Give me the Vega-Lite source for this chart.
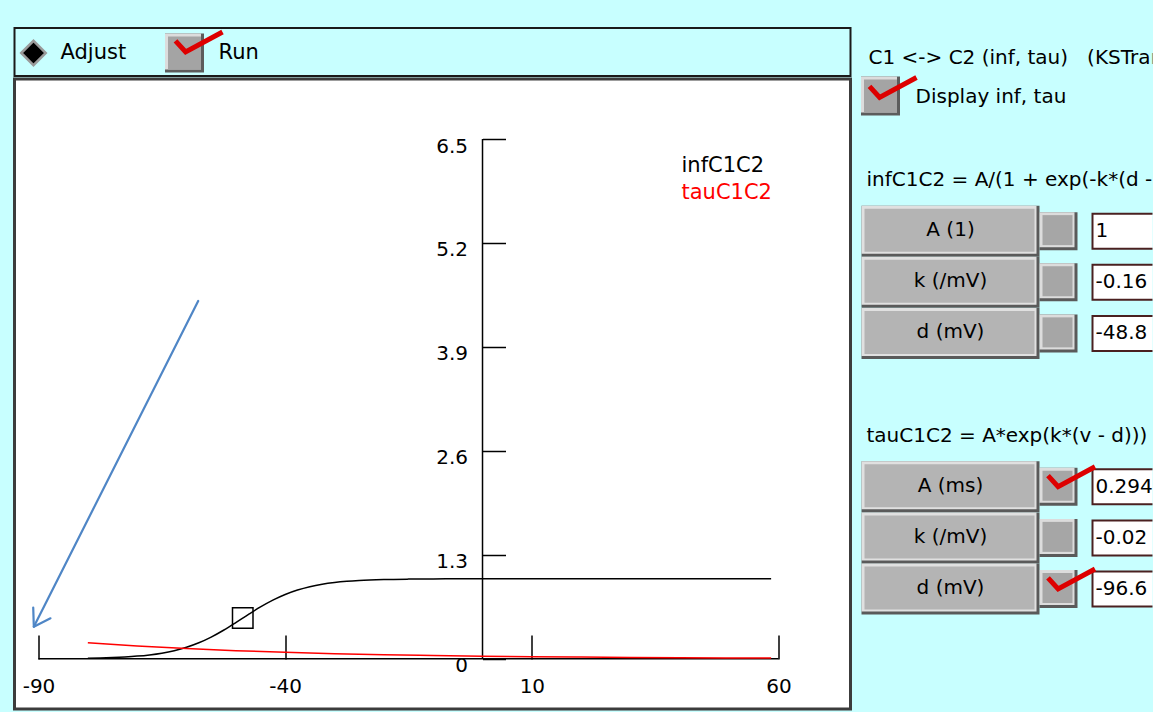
{
  "$schema": "https://vega.github.io/schema/vega-lite/v6.json",
  "background": "#c8ffff",
  "padding": {"left": 12.5, "top": 27, "right": 0, "bottom": 0},
  "spacing": 0,
  "config": {
    "font": "DejaVu Sans",
    "view": {"stroke": null},
    "concat": {"spacing": 0},
    "axis": {"grid": false}
  },
  "hconcat": [
    {
      "spacing": 0,
      "vconcat": [
        {
          "width": 836,
          "height": 48,
          "view": {"fill": "#c8ffff", "stroke": "#1a1a1a", "strokeWidth": 2},
          "data": {"values": [
            {"control": "Adjust", "type": "radio"},
            {"control": "Run", "type": "checkbox"}
          ]},
          "encoding": {
            "x": {"field": "control", "type": "nominal", "axis": null,
                  "scale": {"type": "point", "domain": ["Adjust", "Run"], "range": [19, 170], "padding": 0}}
          },
          "layer": [
            {"transform": [{"filter": "datum.type === 'radio'"}],
             "mark": {"type": "point", "shape": "diamond", "filled": true, "size": 600, "color": "#000000", "stroke": "#9a9a9a", "strokeWidth": 2.5, "opacity": 1, "yOffset": 1, "clip": true}},
            {"transform": [{"filter": "datum.type === 'checkbox'"}],
             "mark": {"type": "point", "shape": "square", "filled": true, "size": 1521, "color": "#5c5c5c", "opacity": 1, "yOffset": 1, "clip": true}},
            {"transform": [{"filter": "datum.type === 'checkbox'"}],
             "mark": {"type": "point", "shape": "square", "filled": true, "size": 1296, "color": "#dcdcdc", "opacity": 1, "xOffset": -1.5, "yOffset": -0.5, "clip": true}},
            {"transform": [{"filter": "datum.type === 'checkbox'"}],
             "mark": {"type": "point", "shape": "square", "filled": true, "size": 1089, "color": "#a4a4a4", "opacity": 1, "yOffset": 1, "clip": true}},
            {"transform": [{"filter": "datum.type === 'checkbox'"}],
             "mark": {"type": "point", "shape": "M-1,-0.09L-0.57,0.38L1,-0.47", "filled": false, "size": 2209, "stroke": "#dd0000", "strokeWidth": 5, "opacity": 1, "xOffset": 14.5, "yOffset": -9, "clip": true}},
            {"transform": [{"filter": "datum.type === 'radio'"}],
             "mark": {"type": "text", "align": "left", "dx": 27, "dy": 1, "fontSize": 21, "color": "#000000", "clip": true},
             "encoding": {"text": {"field": "control"}}},
            {"transform": [{"filter": "datum.type === 'checkbox'"}],
             "mark": {"type": "text", "align": "left", "dx": 34, "dy": 1, "fontSize": 21, "color": "#000000", "clip": true},
             "encoding": {"text": {"field": "control"}}}
          ]
        },
        {
          "width": 836,
          "height": 630,
          "view": {"fill": "#ffffff", "stroke": "#3c3c3c", "strokeWidth": 3},
          "encoding": {
            "x": {"field": "v", "type": "quantitative",
                  "scale": {"domain": [-94.865, 74.59], "nice": false, "zero": false},
                  "axis": {"orient": "bottom", "offset": -50, "values": [-90, -40, 10, 60],
                           "tickSize": -24, "tickWidth": 1.5, "tickColor": "#000000",
                           "domain": false, "grid": false, "title": null,
                           "labelFont": "DejaVu Sans", "labelFontSize": 20, "labelColor": "#000000",
                           "labelPadding": 41, "labelExpr": "'' + datum.value",
                           "labelFlush": false, "labelOverlap": false, "labelBound": false}},
            "y": {"field": "value", "type": "quantitative",
                  "scale": {"domain": [-0.629, 7.2508], "nice": false, "zero": false},
                  "axis": {"orient": "left", "offset": -468, "values": [0, 1.3, 2.6, 3.9, 5.2, 6.5],
                           "tickSize": -23, "tickWidth": 1.5, "tickColor": "#000000",
                           "domain": false, "grid": false, "title": null,
                           "labelFont": "DejaVu Sans", "labelFontSize": 20, "labelColor": "#000000",
                           "labelPadding": 38, "labelOffset": 7, "labelExpr": "'' + datum.value",
                           "labelFlush": false, "labelOverlap": false, "labelBound": false}}
          },
          "layer": [
            {
              "data": {"values": [
                {"v": -90, "v2": 60, "value": 0, "value2": 0},
                {"v": 0, "v2": 0, "value": 0, "value2": 6.5}
              ]},
              "mark": {"type": "rule", "color": "#000000", "strokeWidth": 1.5},
              "encoding": {"x2": {"field": "v2"}, "y2": {"field": "value2"}}
            },
            {
              "data": {"values": [
                {"series": "infC1C2", "v": -80, "value": 0.0068},
                {"series": "infC1C2", "v": -77.5, "value": 0.0100},
                {"series": "infC1C2", "v": -75, "value": 0.0149},
                {"series": "infC1C2", "v": -72.5, "value": 0.0221},
                {"series": "infC1C2", "v": -70, "value": 0.0325},
                {"series": "infC1C2", "v": -67.5, "value": 0.0478},
                {"series": "infC1C2", "v": -65, "value": 0.0696},
                {"series": "infC1C2", "v": -62.5, "value": 0.1005},
                {"series": "infC1C2", "v": -60, "value": 0.1428},
                {"series": "infC1C2", "v": -57.5, "value": 0.1991},
                {"series": "infC1C2", "v": -55, "value": 0.2705},
                {"series": "infC1C2", "v": -52.5, "value": 0.3562},
                {"series": "infC1C2", "v": -50, "value": 0.4521},
                {"series": "infC1C2", "v": -47.5, "value": 0.5518},
                {"series": "infC1C2", "v": -45, "value": 0.6475},
                {"series": "infC1C2", "v": -42.5, "value": 0.7326},
                {"series": "infC1C2", "v": -40, "value": 0.8035},
                {"series": "infC1C2", "v": -37.5, "value": 0.8591},
                {"series": "infC1C2", "v": -35, "value": 0.9010},
                {"series": "infC1C2", "v": -32.5, "value": 0.9314},
                {"series": "infC1C2", "v": -30, "value": 0.9529},
                {"series": "infC1C2", "v": -27.5, "value": 0.9680},
                {"series": "infC1C2", "v": -25, "value": 0.9783},
                {"series": "infC1C2", "v": -20, "value": 0.9901},
                {"series": "infC1C2", "v": -15, "value": 0.9955},
                {"series": "infC1C2", "v": -10, "value": 0.9980},
                {"series": "infC1C2", "v": -5, "value": 0.9991},
                {"series": "infC1C2", "v": 0, "value": 0.9996},
                {"series": "infC1C2", "v": 10, "value": 0.9999},
                {"series": "infC1C2", "v": 20, "value": 1.0},
                {"series": "infC1C2", "v": 30, "value": 1.0},
                {"series": "infC1C2", "v": 40, "value": 1.0},
                {"series": "infC1C2", "v": 50, "value": 1.0},
                {"series": "infC1C2", "v": 58.5, "value": 1.0},
                {"series": "tauC1C2", "v": -80, "value": 0.2007},
                {"series": "tauC1C2", "v": -70, "value": 0.1594},
                {"series": "tauC1C2", "v": -60, "value": 0.1267},
                {"series": "tauC1C2", "v": -50, "value": 0.1006},
                {"series": "tauC1C2", "v": -40, "value": 0.0800},
                {"series": "tauC1C2", "v": -30, "value": 0.0635},
                {"series": "tauC1C2", "v": -20, "value": 0.0505},
                {"series": "tauC1C2", "v": -10, "value": 0.0401},
                {"series": "tauC1C2", "v": 0, "value": 0.0319},
                {"series": "tauC1C2", "v": 10, "value": 0.0253},
                {"series": "tauC1C2", "v": 20, "value": 0.0201},
                {"series": "tauC1C2", "v": 30, "value": 0.0160},
                {"series": "tauC1C2", "v": 40, "value": 0.0127},
                {"series": "tauC1C2", "v": 50, "value": 0.0101},
                {"series": "tauC1C2", "v": 58.5, "value": 0.0082}
              ]},
              "mark": {"type": "line", "strokeWidth": 1.5, "interpolate": "monotone"},
              "encoding": {
                "color": {"field": "series", "type": "nominal",
                          "scale": {"domain": ["infC1C2", "tauC1C2"], "range": ["#000000", "#ff0000"]},
                          "legend": {"orient": "none", "legendX": 646, "legendY": 127, "title": null,
                                     "symbolOpacity": 0, "symbolSize": 0, "symbolStrokeWidth": 0,
                                     "labelFont": "DejaVu Sans", "labelFontSize": 21, "labelOffset": 0,
                                     "rowPadding": 5, "padding": 0,
                                     "encode": {"labels": {"update": {"fill": {"signal": "datum.value === 'tauC1C2' ? '#ff0000' : '#000000'"}}}}}}
              }
            },
            {
              "data": {"values": [{"v": -48.6, "value": 0.508}]},
              "mark": {"type": "point", "shape": "square", "size": 420, "filled": false, "stroke": "#000000", "strokeWidth": 1.5, "opacity": 1}
            },
            {
              "data": {"values": [
                {"part": "shaft", "step": 1, "v": -57.63, "value": 4.474},
                {"part": "shaft", "step": 2, "v": -90.95, "value": 0.40},
                {"part": "head", "step": 1, "v": -91.07, "value": 0.64},
                {"part": "head", "step": 2, "v": -90.95, "value": 0.40},
                {"part": "head", "step": 3, "v": -87.57, "value": 0.505}
              ]},
              "mark": {"type": "line", "color": "#4f86c6", "strokeWidth": 2.2, "strokeCap": "round", "strokeJoin": "round"},
              "encoding": {"detail": {"field": "part"}, "order": {"field": "step", "type": "quantitative"}}
            }
          ]
        }
      ]
    },
    {
      "width": 300,
      "height": 684,
      "data": {"values": [
        {"key": "heading", "kind": "heading", "label": "C1 <-> C2 (inf, tau)\u00a0\u00a0 (KSTrans)"},
        {"key": "display", "kind": "checkbox", "label": "Display inf, tau", "checked": true},
        {"key": "infEq", "kind": "formula", "label": "infC1C2 = A/(1 + exp(-k*(d - v)))"},
        {"key": "infA", "kind": "param", "label": "A (1)", "value": "1", "checked": false},
        {"key": "infk", "kind": "param", "label": "k (/mV)", "value": "-0.16", "checked": false},
        {"key": "infd", "kind": "param", "label": "d (mV)", "value": "-48.8", "checked": false},
        {"key": "tauEq", "kind": "formula", "label": "tauC1C2 = A*exp(k*(v - d)))"},
        {"key": "tauA", "kind": "param", "label": "A (ms)", "value": "0.294", "checked": true},
        {"key": "tauk", "kind": "param", "label": "k (/mV)", "value": "-0.02", "checked": false},
        {"key": "taud", "kind": "param", "label": "d (mV)", "value": "-96.6", "checked": true}
      ]},
      "encoding": {
        "x": {"datum": "button", "type": "nominal", "axis": null,
              "scale": {"type": "point", "domain": ["button", "toggle"], "range": [98, 206], "padding": 0}}
      },
      "layer": [
        {"transform": [{"filter": "datum.kind === 'heading'"}],
         "mark": {"type": "text", "align": "left", "dx": -82, "fontSize": 20, "color": "#000000", "clip": true},
         "encoding": {"text": {"field": "label"},
                      "y": {"field": "key", "type": "nominal", "axis": null, "scale": {"type": "point", "domain": ["heading", "display"], "range": [30, 69], "padding": 0}}}},
        {"transform": [{"filter": "datum.kind === 'checkbox'"}],
         "mark": {"type": "text", "align": "left", "dx": -35, "fontSize": 20, "color": "#000000", "clip": true},
         "encoding": {"text": {"field": "label"},
                      "y": {"field": "key", "type": "nominal", "axis": null, "scale": {"type": "point", "domain": ["heading", "display"], "range": [30, 69], "padding": 0}}}},
        {"transform": [{"filter": "datum.kind === 'checkbox'"}],
         "mark": {"type": "point", "shape": "square", "filled": true, "size": 1521, "color": "#5c5c5c", "opacity": 1, "xOffset": -70, "yOffset": -1},
         "encoding": {"y": {"field": "key", "type": "nominal", "axis": null, "scale": {"type": "point", "domain": ["heading", "display"], "range": [30, 69], "padding": 0}}}},
        {"transform": [{"filter": "datum.kind === 'checkbox'"}],
         "mark": {"type": "point", "shape": "square", "filled": true, "size": 1296, "color": "#dcdcdc", "opacity": 1, "xOffset": -71.5, "yOffset": -2.5},
         "encoding": {"y": {"field": "key", "type": "nominal", "axis": null, "scale": {"type": "point", "domain": ["heading", "display"], "range": [30, 69], "padding": 0}}}},
        {"transform": [{"filter": "datum.kind === 'checkbox'"}],
         "mark": {"type": "point", "shape": "square", "filled": true, "size": 1089, "color": "#a4a4a4", "opacity": 1, "xOffset": -70, "yOffset": -1},
         "encoding": {"y": {"field": "key", "type": "nominal", "axis": null, "scale": {"type": "point", "domain": ["heading", "display"], "range": [30, 69], "padding": 0}}}},
        {"transform": [{"filter": "datum.kind === 'checkbox'"}],
         "mark": {"type": "point", "shape": "M-1,-0.09L-0.57,0.38L1,-0.47", "filled": false, "size": 2209, "stroke": "#dd0000", "strokeWidth": 5, "opacity": 1, "xOffset": -57.5, "yOffset": -8.5, "clip": true},
         "encoding": {"y": {"field": "key", "type": "nominal", "axis": null, "scale": {"type": "point", "domain": ["heading", "display"], "range": [30, 69], "padding": 0}}}},
        {"transform": [{"filter": "datum.kind === 'formula'"}],
         "mark": {"type": "text", "align": "left", "dx": -84, "fontSize": 20, "color": "#000000", "clip": true},
         "encoding": {"text": {"field": "label"},
                      "y": {"field": "key", "type": "nominal", "axis": null, "scale": {"type": "point", "domain": ["infEq", "infA", "infk", "infd", "gap", "tauEq", "tauA", "tauk", "taud"], "range": [152, 561], "padding": 0}}}},
        {"transform": [{"filter": "datum.kind === 'param'"}],
         "mark": {"type": "rect", "width": 178, "height": 51, "color": "#5a5a5a"},
         "encoding": {"y": {"field": "key", "type": "nominal", "axis": null, "scale": {"type": "point", "domain": ["infEq", "infA", "infk", "infd", "gap", "tauEq", "tauA", "tauk", "taud"], "range": [152, 561], "padding": 0}}}},
        {"transform": [{"filter": "datum.kind === 'param'"}],
         "mark": {"type": "rect", "width": 175, "height": 48, "color": "#e0e0e0", "xOffset": -1.5, "yOffset": -1.5},
         "encoding": {"y": {"field": "key", "type": "nominal", "axis": null, "scale": {"type": "point", "domain": ["infEq", "infA", "infk", "infd", "gap", "tauEq", "tauA", "tauk", "taud"], "range": [152, 561], "padding": 0}}}},
        {"transform": [{"filter": "datum.kind === 'param'"}],
         "mark": {"type": "rect", "width": 170, "height": 43, "color": "#b4b4b4", "xOffset": -1, "yOffset": -1},
         "encoding": {"y": {"field": "key", "type": "nominal", "axis": null, "scale": {"type": "point", "domain": ["infEq", "infA", "infk", "infd", "gap", "tauEq", "tauA", "tauk", "taud"], "range": [152, 561], "padding": 0}}}},
        {"transform": [{"filter": "datum.kind === 'param'"}],
         "mark": {"type": "text", "fontSize": 20, "color": "#000000", "dy": -1},
         "encoding": {"text": {"field": "label"},
                      "y": {"field": "key", "type": "nominal", "axis": null, "scale": {"type": "point", "domain": ["infEq", "infA", "infk", "infd", "gap", "tauEq", "tauA", "tauk", "taud"], "range": [152, 561], "padding": 0}}}},
        {"transform": [{"filter": "datum.kind === 'param'"}],
         "mark": {"type": "rect", "width": 38, "height": 38, "color": "#5a5a5a"},
         "encoding": {"x": {"datum": "toggle", "type": "nominal"},
                      "y": {"field": "key", "type": "nominal", "axis": null, "scale": {"type": "point", "domain": ["infEq", "infA", "infk", "infd", "gap", "tauEq", "tauA", "tauk", "taud"], "range": [152, 561], "padding": 0}}}},
        {"transform": [{"filter": "datum.kind === 'param'"}],
         "mark": {"type": "rect", "width": 35, "height": 35, "color": "#dcdcdc", "xOffset": -1.5, "yOffset": -1.5},
         "encoding": {"x": {"datum": "toggle", "type": "nominal"},
                      "y": {"field": "key", "type": "nominal", "axis": null, "scale": {"type": "point", "domain": ["infEq", "infA", "infk", "infd", "gap", "tauEq", "tauA", "tauk", "taud"], "range": [152, 561], "padding": 0}}}},
        {"transform": [{"filter": "datum.kind === 'param'"}],
         "mark": {"type": "rect", "width": 30, "height": 30, "color": "#a6a6a6", "xOffset": -1, "yOffset": -1},
         "encoding": {"x": {"datum": "toggle", "type": "nominal"},
                      "y": {"field": "key", "type": "nominal", "axis": null, "scale": {"type": "point", "domain": ["infEq", "infA", "infk", "infd", "gap", "tauEq", "tauA", "tauk", "taud"], "range": [152, 561], "padding": 0}}}},
        {"transform": [{"filter": "datum.kind === 'param'"}],
         "mark": {"type": "rect", "width": 100, "height": 35, "fill": "#ffffff", "stroke": "#4a2020", "strokeWidth": 2, "xOffset": 84, "clip": true},
         "encoding": {"x": {"datum": "toggle", "type": "nominal"},
                      "y": {"field": "key", "type": "nominal", "axis": null, "scale": {"type": "point", "domain": ["infEq", "infA", "infk", "infd", "gap", "tauEq", "tauA", "tauk", "taud"], "range": [152, 561], "padding": 0}}}},
        {"transform": [{"filter": "datum.kind === 'param'"}],
         "mark": {"type": "text", "align": "left", "dx": 37, "fontSize": 20, "color": "#000000", "clip": true},
         "encoding": {"x": {"datum": "toggle", "type": "nominal"},
                      "text": {"field": "value"},
                      "y": {"field": "key", "type": "nominal", "axis": null, "scale": {"type": "point", "domain": ["infEq", "infA", "infk", "infd", "gap", "tauEq", "tauA", "tauk", "taud"], "range": [152, 561], "padding": 0}}}},
        {"transform": [{"filter": "datum.kind === 'param' && datum.checked"}],
         "mark": {"type": "point", "shape": "M-1,-0.09L-0.57,0.38L1,-0.47", "filled": false, "size": 2209, "stroke": "#dd0000", "strokeWidth": 5, "opacity": 1, "xOffset": 13, "yOffset": -9, "clip": true},
         "encoding": {"x": {"datum": "toggle", "type": "nominal"},
                      "y": {"field": "key", "type": "nominal", "axis": null, "scale": {"type": "point", "domain": ["infEq", "infA", "infk", "infd", "gap", "tauEq", "tauA", "tauk", "taud"], "range": [152, 561], "padding": 0}}}}
      ],
      "resolve": {"scale": {"y": "independent"}}
    }
  ]
}
